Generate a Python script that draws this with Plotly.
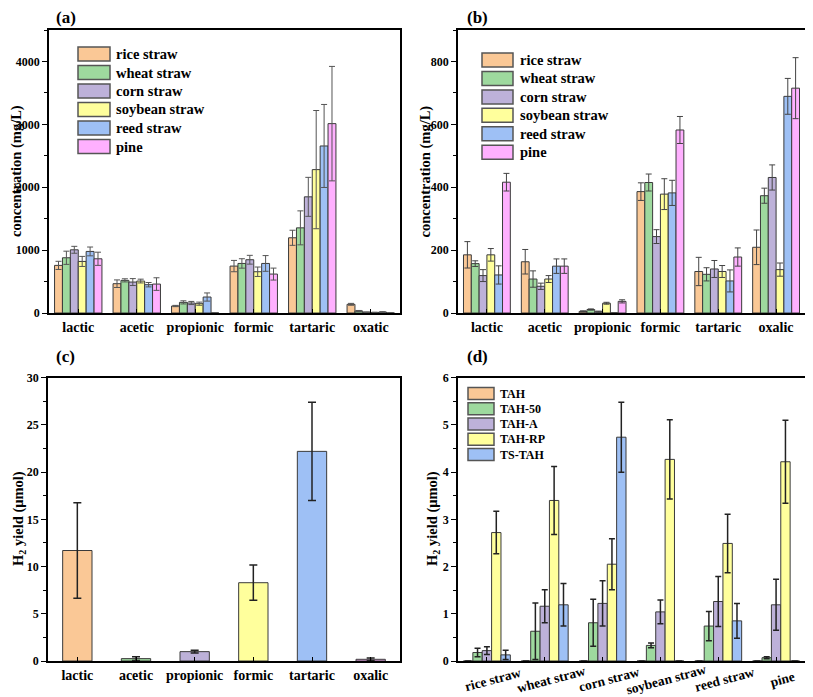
import plotly.graph_objects as go
from plotly.subplots import make_subplots

# ---------------- data ----------------
acids_a = ["lactic", "acetic", "propionic", "formic", "tartaric", "oxatic"]
acids_b = ["lactic", "acetic", "propionic", "formic", "tartaric", "oxalic"]
materials = ["rice straw", "wheat straw", "corn straw", "soybean straw", "reed straw", "pine"]
treatments = ["TAH", "TAH-50", "TAH-A", "TAH-RP", "TS-TAH"]

# panel (a): concentration (mg/L), one row per material, columns follow acids_a
conc_a = [
    [757, 466, 111, 746, 1196, 138],
    [878, 519, 169, 788, 1354, 32],
    [1005, 492, 159, 847, 1847, 12],
    [820, 508, 148, 656, 2280, 8],
    [979, 450, 254, 788, 2656, 15],
    [862, 460, 0, 619, 3011, 0],
]
conc_a_err = [
    [65, 60, 10, 90, 120, 15],
    [105, 25, 25, 75, 270, 8],
    [55, 55, 25, 70, 310, 5],
    [80, 30, 25, 75, 940, 5],
    [70, 35, 65, 125, 660, 5],
    [105, 100, 0, 95, 910, 0],
]

# panel (b): concentration (mg/L)
conc_b = [
    [185, 163, 5, 386, 132, 209],
    [157, 108, 11, 415, 123, 373],
    [119, 85, 4, 243, 140, 431],
    [185, 108, 31, 378, 132, 138],
    [121, 149, 0, 382, 102, 689],
    [416, 149, 37, 582, 178, 715],
]
conc_b_err = [
    [42, 39, 2, 28, 45, 55],
    [9, 26, 2, 27, 21, 24],
    [19, 10, 2, 22, 27, 40],
    [20, 11, 3, 49, 19, 21],
    [29, 23, 0, 40, 35, 57],
    [28, 23, 5, 43, 29, 97],
]

# panel (c): H2 yield (umol) per acid
yield_c = [11.7, 0.25, 0.99, 8.29, 22.2, 0.18]
yield_c_err = [5.05, 0.2, 0.15, 1.87, 5.2, 0.15]

# panel (d): H2 yield (umol), one row per treatment, columns follow materials
yield_d = [
    [0, 0, 0, 0, 0, 0],
    [0.18, 0.63, 0.81, 0.33, 0.74, 0.07],
    [0.22, 1.16, 1.22, 1.04, 1.26, 1.19],
    [2.72, 3.40, 2.05, 4.27, 2.49, 4.22],
    [0.13, 1.19, 4.74, 0, 0.85, 0],
]
yield_d_err = [
    [0, 0, 0, 0, 0, 0],
    [0.09, 0.6, 0.5, 0.05, 0.31, 0.02],
    [0.08, 0.35, 0.48, 0.25, 0.53, 0.54],
    [0.45, 0.72, 0.54, 0.84, 0.62, 0.88],
    [0.1, 0.45, 0.74, 0, 0.37, 0],
]

# ---------------- style ----------------
colors = ["#FAC896", "#9ED99E", "#BDB1D9", "#FFFF9C", "#9EC0F5", "#FFB0FF"]
FONT = "Liberation Serif, Times New Roman, serif"
OFF = 8  # page body margin
W, H = 813 - OFF, 697 - OFF
OUTLINE = "#3a3a3a"

fig = make_subplots(rows=2, cols=2)


def px(x):
    return (x - OFF) / W


def py(y):
    return 1 - (y - OFF) / H


# panels (a) and (b)
for (row, col, vals, errs, cats, ecol) in [
    (1, 1, conc_a, conc_a_err, acids_a, "#555555"),
    (1, 2, conc_b, conc_b_err, acids_b, "#444444"),
]:
    for i, name in enumerate(materials):
        fig.add_trace(go.Bar(
            x=cats, y=vals[i], name=name, showlegend=False,
            marker=dict(color=colors[i], line=dict(color=OUTLINE, width=1)),
            error_y=dict(type="data", array=errs[i], color=ecol, thickness=1, width=3),
        ), row=row, col=col)

# panel (c)
fig.add_trace(go.Bar(
    x=acids_b, y=yield_c, showlegend=False, width=0.5,
    marker=dict(color=colors, line=dict(color=OUTLINE, width=1)),
    error_y=dict(type="data", array=yield_c_err, color="#222222", thickness=1.5, width=4),
), row=2, col=1)

# panel (d)
for i, name in enumerate(treatments):
    fig.add_trace(go.Bar(
        x=materials, y=yield_d[i], name=name, showlegend=False,
        marker=dict(color=colors[i], line=dict(color=OUTLINE, width=1)),
        error_y=dict(type="data", array=yield_d_err[i], color="#222222", thickness=1.5, width=3),
    ), row=2, col=2)

fig.update_layout(
    width=W, height=H, margin=dict(l=0, r=0, t=0, b=0, autoexpand=False),
    paper_bgcolor="white", plot_bgcolor="white",
    barmode="group", bargap=0.19, bargroupgap=0,
    font=dict(family=FONT, color="black"),
    showlegend=False,
)

domains = {
    (1, 1): ([px(49), px(400)], [py(313), py(30)]),
    (1, 2): ([px(458), px(805)], [py(313), py(30)]),
    (2, 1): ([px(48), px(400)], [py(661), py(377.7)]),
    (2, 2): ([px(458), px(805)], [py(661), py(377.7)]),
}
yspecs = {
    (1, 1): ([0, 4500], 1000, 500),
    (1, 2): ([0, 900], 200, 100),
    (2, 1): ([0, 30], 5, 2.5),
    (2, 2): ([0, 6], 1, 0.5),
}
for (r, c), (xd, yd) in domains.items():
    yr, dt, mdt = yspecs[(r, c)]
    fig.update_xaxes(
        domain=xd, row=r, col=c, showline=True, linecolor="black", linewidth=1.5,
        mirror=True, ticks="inside", ticklen=4, tickcolor="black", showgrid=False,
        automargin=False,
        tickfont=dict(family=FONT, size=14, color="black", weight="bold"),
    )
    fig.update_yaxes(
        domain=yd, row=r, col=c, range=yr, dtick=dt, tick0=0, showline=True,
        linecolor="black", linewidth=1.5, mirror=True, ticks="outside", ticklen=5,
        tickcolor="black", showgrid=False, zeroline=False, automargin=False,
        minor=dict(dtick=mdt, ticks="outside", ticklen=3, tickcolor="black"),
        tickfont=dict(family=FONT, size=12, color="black", weight="bold"),
    )
fig.update_xaxes(showticklabels=False, row=2, col=2)

ann = []
# panel (d) category labels, rotated and centred under each group
for name in materials:
    ann.append(dict(text=f"<b>{name}</b>", x=name, xref="x4", y=py(679), yref="paper",
                    showarrow=False, xanchor="center", yanchor="middle", textangle=-15,
                    xshift=6, font=dict(family=FONT, size=13.5, color="black")))
# panel letters
for txt, x, y in [("(a)", 66, 17.5), ("(b)", 477.5, 17.5), ("(c)", 66, 357), ("(d)", 477.5, 357)]:
    ann.append(dict(text=f"<b>{txt}</b>", x=px(x), y=py(y), xref="paper", yref="paper",
                    showarrow=False, xanchor="center", yanchor="middle",
                    font=dict(family=FONT, size=17, color="black")))
# y axis titles
for txt, x, y in [("concentration (mg/L)", 16.5, 171.5), ("concentration (mg/L)", 425, 171.5),
                  ("H<sub>2</sub> yield (μmol)", 19, 519), ("H<sub>2</sub> yield (μmol)", 433, 519)]:
    ann.append(dict(text=f"<b>{txt}</b>", x=px(x), y=py(y), xref="paper", yref="paper",
                    showarrow=False, xanchor="center", yanchor="middle", textangle=-90,
                    font=dict(family=FONT, size=14.5, color="black")))

shapes = []
# legends drawn as swatches + text
for names, bx0, bx1, tx, y0, pitch, bh, fs in [
    (materials, 78, 110, 114, 54, 18.5, 14, 14.5),
    (materials, 482, 513, 518, 60, 18.45, 14, 14.5),
    (treatments, 468, 494, 498, 393.5, 15.25, 12, 12),
]:
    for i, name in enumerate(names):
        yc = y0 + i * pitch
        shapes.append(dict(type="rect", xref="paper", yref="paper",
                           x0=px(bx0), x1=px(bx1), y0=py(yc + bh / 2), y1=py(yc - bh / 2),
                           fillcolor=colors[i], line=dict(color="#555555", width=1.5)))
        ann.append(dict(text=f"<b>{name}</b>", x=px(tx), y=py(yc), xref="paper", yref="paper",
                        showarrow=False, xanchor="left", yanchor="middle",
                        font=dict(family=FONT, size=fs, color="black")))

fig.update_layout(annotations=ann, shapes=shapes)
fig.write_html("out.html")
